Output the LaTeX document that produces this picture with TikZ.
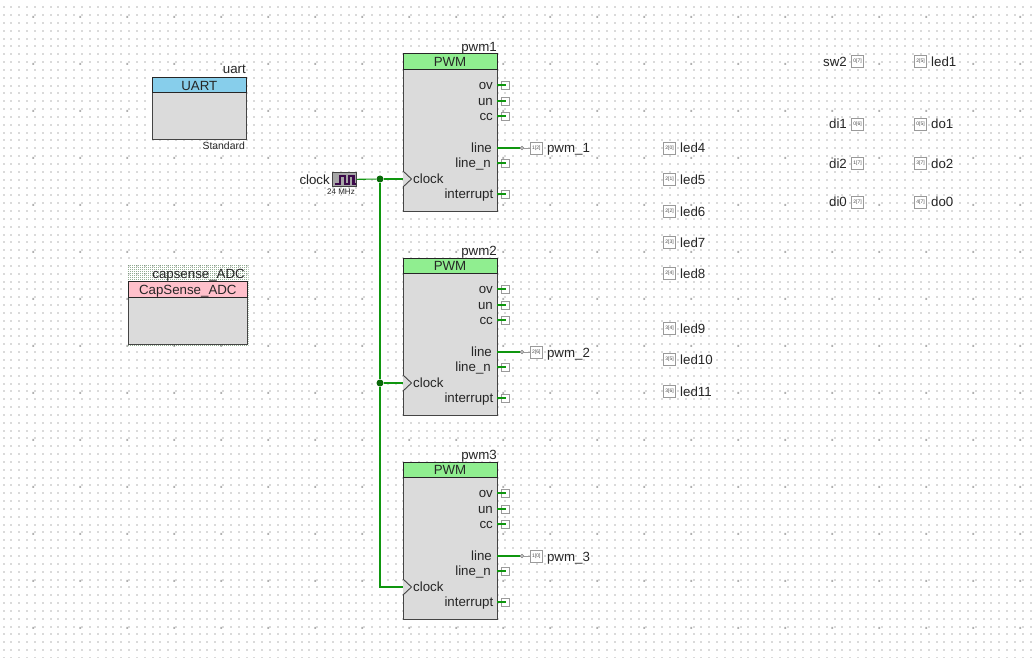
\documentclass[tikz,border=0pt]{standalone}
\usepackage{fontspec}
\setmainfont{Liberation Sans}
\usetikzlibrary{positioning, patterns}
\definecolor{gridc}{HTML}{DADADA}
\definecolor{griddark}{HTML}{B0B0B0}
\definecolor{wirec}{HTML}{0F960F}
\definecolor{edgec}{HTML}{444444}
\definecolor{pinc}{HTML}{9A9A9A}
\definecolor{uartc}{HTML}{87CEEB}
\definecolor{adcc}{HTML}{FFC0CB}
\definecolor{pwmc}{HTML}{90EE90}
\definecolor{wavec}{HTML}{3C0A4A}
\definecolor{adcdots}{HTML}{004000}
% background dots
\pgfdeclarepatternformonly{griddots}{\pgfpoint{0pt}{-2pt}}{\pgfpoint{7.84pt}{5.84pt}}{\pgfpoint{7.84pt}{7.84pt}}{
  \pgfpathrectangle{\pgfpoint{2.6pt}{-0.92pt}}{\pgfpoint{2pt}{2pt}}\pgfusepath{fill}}
\pgfdeclarepatternformonly{griddotsdark}{\pgfpoint{0pt}{0pt}}{\pgfpoint{47.04pt}{47.04pt}}{\pgfpoint{47.04pt}{47.04pt}}{
  \pgfpathrectangle{\pgfpoint{33.96pt}{30.64pt}}{\pgfpoint{2pt}{2pt}}\pgfusepath{fill}}
\pgfdeclarepatternformonly{finedots}{\pgfpoint{0pt}{0pt}}{\pgfpoint{2pt}{2pt}}{\pgfpoint{2pt}{2pt}}{
  \pgfpathrectangle{\pgfpoint{0pt}{0pt}}{\pgfpoint{1pt}{1pt}}\pgfusepath{fill}}
\tikzset{
  blockbody/.style={draw=edgec, line width=1pt, fill=black!14, anchor=north west, inner sep=0pt, outer sep=0pt},
  blockhead/.style={draw=black!85, line width=1pt, anchor=north west, inner sep=0pt, outer sep=0pt, minimum height=15.5pt,
    text height=11pt, text depth=1pt, font=\fontsize{13.3}{16}\selectfont, text=black!85},
  lbl/.style={inner sep=0pt, text height=11pt, text depth=1pt, font=\fontsize{13.3}{16}\selectfont, text=black!85},
  term/.style={draw=pinc, line width=0.8pt, fill=white, minimum size=8pt, inner sep=0pt},
  pin/.style={draw=pinc, line width=0.9pt, fill=white, minimum width=12pt, minimum height=12pt, inner sep=0pt,
    font=\fontsize{5}{5}\selectfont, text=black!70},
  wire/.style={draw=wirec, line width=1.1pt},
  junction/.style={circle, fill=wirec!70!black, inner sep=0pt, minimum size=7pt},
  stub/.style={circle, draw=black!55, fill=white, line width=0.7pt, inner sep=0pt, minimum size=3.2pt},
}
\begin{document}
\begin{tikzpicture}[x=1pt, y=-1pt]
    \useasboundingbox (0,0) rectangle (1034,658);
    \fill[white] (0,0) rectangle (1034,658);
    \fill[pattern=griddots, pattern color=gridc] (0,0) rectangle (1034,658);
    \fill[pattern=griddotsdark, pattern color=griddark] (0,0) rectangle (1034,658);

    % uart
    \node[blockbody, minimum width=94pt, minimum height=62.5pt] (uart) at (152.3,77.5) {};
    \node[blockhead, minimum width=94pt, fill=uartc] (uartHead) at (uart.north west) {UART};
    \node[lbl, anchor=base east] (uartName) at (246,73.5) {uart};
    \node[lbl, anchor=base east, font=\fontsize{10.4}{11}\selectfont] (uartType) at (245,150) {Standard};

    % capsense
    \fill[pattern=finedots, pattern color=adcdots] (127,265) rectangle (248.5,346);
    \node[blockbody, minimum width=119pt, minimum height=62.5pt] (adc) at (128.3,281.5) {};
    \node[blockhead, minimum width=119pt, fill=adcc] (adcHead) at (adc.north west) {CapSense\_ADC};
    \node[lbl, anchor=base east] (adcName) at (245,278.5) {capsense\_ADC};

    % clock source
    \node[draw=edgec, line width=1.2pt, fill=black!35, minimum width=24pt, minimum height=14pt, inner sep=0pt] (clk) at (344.5,179.5) {};
    \draw[line width=2.4pt, draw=wavec] (334.5,184) -- (340,184) -- (340,176) -- (345,176) -- (345,184) -- (349,184) -- (349,176) -- (353.5,176) -- (353.5,184) -- (355.5,184);
    \node[lbl, anchor=base east] (clkName) at (330,184.5) {clock};
    \node[lbl, text height=6pt, text depth=0pt, font=\fontsize{8}{9}\selectfont] (clkFreq) at (341,192) {24 MHz};

    % pwm blocks
    \foreach \n/\top/\pinlabel in {1/54/{1[2]}, 2/258/{2[6]}, 3/462/{1[0]}} {
      \node[blockbody, minimum width=94pt, minimum height=157pt] (pwm\n) at (403,\top) {};
      \node[blockhead, minimum width=94pt, fill=pwmc] (pwm\n head) at (pwm\n.north west) {PWM};
      \node[lbl, anchor=base east] (pwm\n name) at (497,\top-2.5) {pwm\n};
      \foreach \port/\dy/\txt/\ex in {ov/31/ov/493, un/47/un/493, cc/62/cc/493, linen/109/line\_n/491, interrupt/140/interrupt/493.5} {
        \node[lbl, anchor=base east] (pwm\n\port) at (\ex,\top+\dy+4.5) {\txt};
        \node[term] (pwm\n\port T) at (505.5,\top+\dy) {};
        \draw[wire] (pwm\n.east |- pwm\n\port T) -- (pwm\n\port T.center);
      }
      \node[lbl, anchor=base east] (pwm\n line) at (492,\top+94+4.5) {line};
      \node[stub] (pwm\n stub) at (522,\top+94) {};
      \node[pin, right=6pt of pwm\n stub] (pwm\n pin) {\pinlabel};
      \node[lbl, right=4pt of pwm\n pin] (pwm\n out) {pwm\_\n};
      \draw[wire] (pwm\n.east |- pwm\n stub) -- (pwm\n stub);
      \draw[pinc, line width=0.8pt] (pwm\n stub) -- (pwm\n pin);
      \coordinate (pwm\n clk) at (403,\top+125);
      \draw[edgec, line width=0.9pt, fill=black!14] (403,\top+117) -- (411.5,\top+125) -- (403,\top+133);
      \node[lbl, anchor=base west] (pwm\n clkName) at (413,\top+129.5) {clock};
    }

    % clock net
    \node[junction] (j1) at (380,179) {};
    \node[junction] (j2) at (380,383) {};
    \coordinate (c3) at (380,587);
    \draw[wire] (clk) -- (j1);
    \draw[wire] (j1) -- (pwm1clk);
    \draw[wire] (j1) -- (j2);
    \draw[wire] (j2) -- (pwm2clk);
    \draw[wire] (j2) -- (c3) -- (pwm3clk);

    % led pins
    \foreach \name/\pinlabel/\py in {led4/{2[0]}/148, led5/{2[1]}/179.5, led6/{2[2]}/211, led7/{2[3]}/242.5, led8/{2[4]}/273.5, led9/{3[4]}/328, led10/{3[5]}/359.5, led11/{3[6]}/391} {
      \node[pin] (\name) at (669.5,\py) {\pinlabel};
      \node[lbl, right=4pt of \name] (\name txt) {\name};
    }

    % input pins
    \foreach \name/\pinlabel/\py in {sw2/{0[7]}/61.5, di1/{0[6]}/124, di2/{1[7]}/163, di0/{2[7]}/202} {
      \node[pin] (\name) at (857.5,\py) {\pinlabel};
      \node[lbl, left=4pt of \name] (\name txt) {\name};
    }

    % output pins
    \foreach \name/\pinlabel/\py in {led1/{2[5]}/61.5, do1/{0[5]}/124, do2/{3[7]}/163, do0/{4[7]}/202} {
      \node[pin] (\name) at (920.5,\py) {\pinlabel};
      \node[lbl, right=4pt of \name] (\name txt) {\name};
    }
\end{tikzpicture}
\end{document}
